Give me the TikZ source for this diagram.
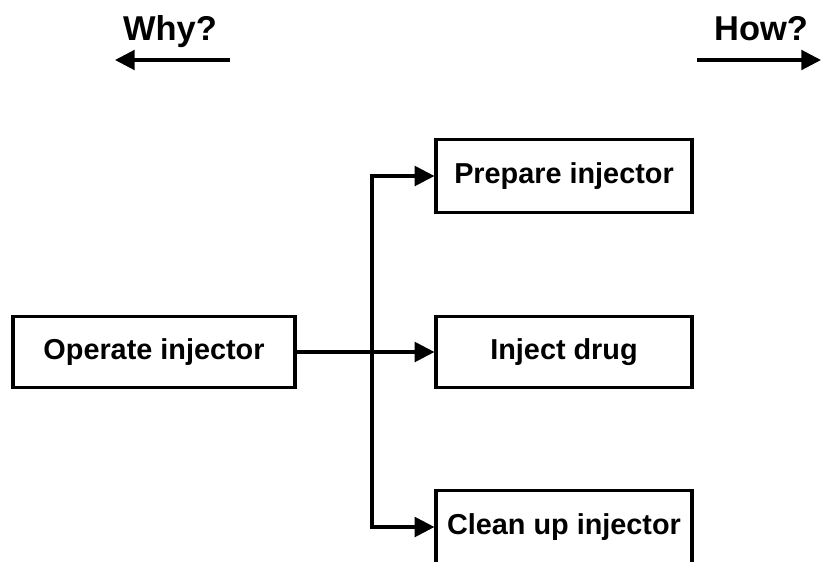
\documentclass[tikz,border=0pt]{standalone}
\usepackage{fontspec}
\setmainfont{Liberation Sans}
\usetikzlibrary{arrows.meta}

\tikzset{
  fn/.style={draw, line width=2.2pt, font=\fontsize{20.5}{24}\selectfont\bfseries, inner sep=0pt},
  flow/.style={line width=2.2pt, -{Triangle[length=14pt,width=14pt]}},
  ask/.style={font=\fontsize{24.5}{28}\selectfont\bfseries, anchor=base}
}

\begin{document}
\begin{tikzpicture}[x=0.025cm,y=-0.025cm]
\useasboundingbox (0,0) rectangle (821,561);

% why / how
\node[ask] (why) at (170,40) {Why?};
\node[ask] (how) at (761,40) {How?};
\coordinate (whyA) at (230,60);
\coordinate (whyB) at (115,60);
\coordinate (howA) at (697,60);
\coordinate (howB) at (821,60);
\draw[flow] (whyA) -- (whyB);
\draw[flow] (howA) -- (howB);

% function boxes
\node[fn, minimum width=7.05cm, minimum height=1.775cm] (op) at (154,352) {Operate injector};
\node[fn, minimum width=6.4cm, minimum height=1.825cm] (prep) at (564,176) {Prepare injector};
\node[fn, minimum width=6.4cm, minimum height=1.775cm] (inj) at (564,352) {Inject drug};
\node[fn, minimum width=6.4cm, minimum height=1.825cm] (clean) at (564,527) {Clean up injector};

\coordinate (split) at (372,352);

\draw[flow] (op.east) -- (inj.west);
\draw[flow] (split) |- (prep.west);
\draw[flow] (split) |- (clean.west);

\end{tikzpicture}
\end{document}
